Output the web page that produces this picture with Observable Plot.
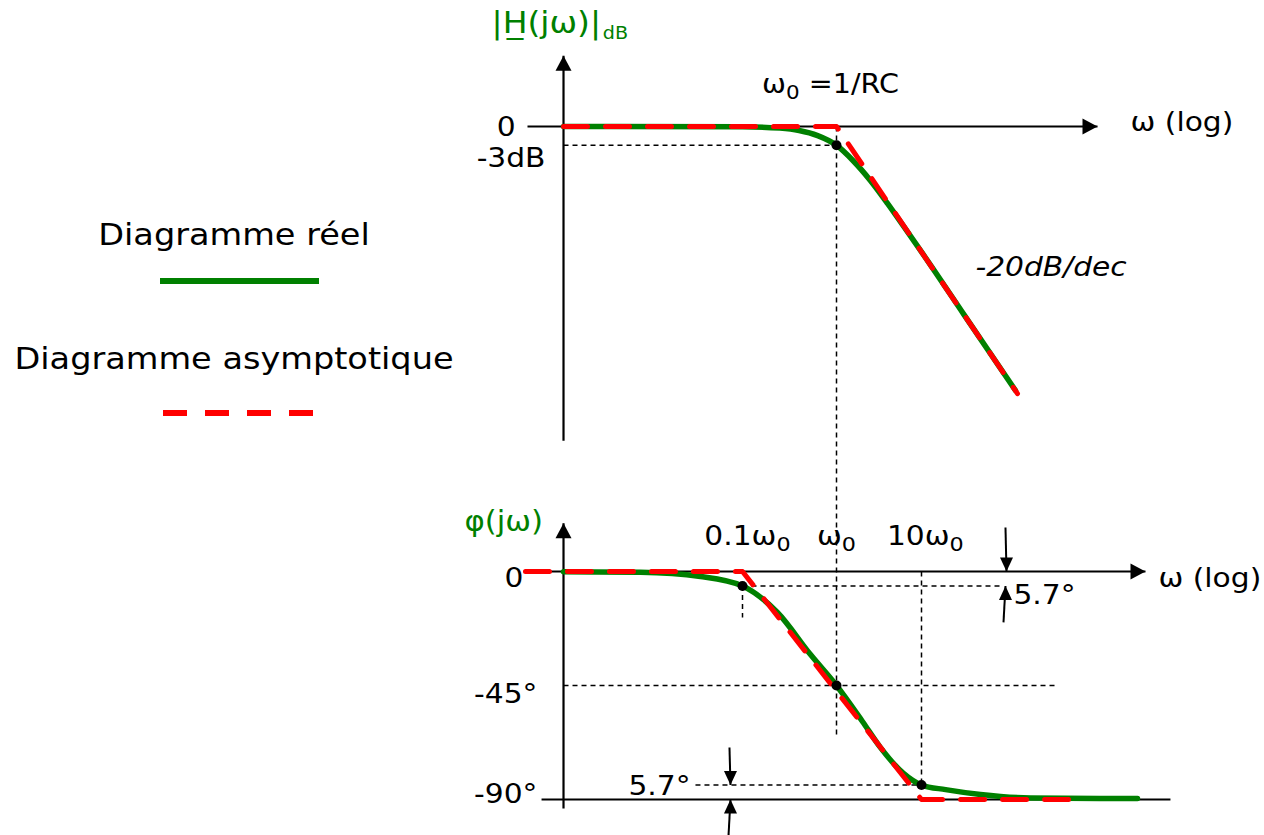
<!DOCTYPE html>
<html lang="fr">
<head>
<meta charset="utf-8">
<title>Diagramme de Bode – passe-bas du premier ordre</title>
<script src="https://cdn.jsdelivr.net/npm/d3@7"></script>
<script src="https://cdn.jsdelivr.net/npm/@observablehq/plot@0.6"></script>
<style>
  html, body { margin: 0; padding: 0; background: #fff; }
  #chart { position: relative; width: 1264px; height: 835px; overflow: hidden; font-family: "DejaVu Sans", sans-serif; }
  #chart > svg { position: absolute; left: 0; top: 0; }
</style>
</head>
<body>
<div id="chart"></div>
<script>
// Angular frequency is given as ω/ω0 (ω0 = 1/RC)

// ---------------- Gain |H(jω)| in dB ----------------
const magReal = [
  {w: 1.247e-3, db: 0}, {w: 0.1, db: -0.04}, {w: 0.25, db: -0.26}, {w: 0.4, db: -0.64},
  {w: 0.63, db: -1.46}, {w: 1, db: -3.0}, {w: 1.58, db: -5.5}, {w: 2.5, db: -8.6},
  {w: 4, db: -12.3}, {w: 6.3, db: -16.1}, {w: 10, db: -20.0}, {w: 31.6, db: -30.0},
  {w: 127.6, db: -42.1}
];
const magAsymptote = [{w: 1.247e-3, db: 0}, {w: 1, db: 0}, {w: 134.6, db: -42.6}];
const magAxes = [
  {w1: 5.16e-4, w2: 1177, db1: 0, db2: 0},
  {w1: 1.247e-3, w2: 1.247e-3, db1: -50.1, db2: 11.3}
];
const magArrowRight = [{w: 1177, db: 0}];
const magArrowUp = [{w: 1.247e-3, db: 11.3}];
const magGuides = [
  {w1: 1.247e-3, w2: 1, db1: -3, db2: -3},
  {w1: 1, w2: 1, db1: 0, db2: -97.4}
];
const magPoints = [{w: 1, db: -3}];
const magTitle = [{w: 2.14e-4, db: 16.4, label: "|H\u0332(jω)|_dB"}];
const magTickLabels = [{w: 3.85e-4, db: -0.16, label: "0"}, {w: 8.02e-4, db: -5.0, label: "-3dB"}];
const magCutoffLabel = [{w: 0.863, db: 6.7, label: "ω₀ =1/RC"}];
const magAxisLabel = [{w: 2877, db: 0.64, label: "ω (log)"}];
const magSlopeLabel = [{w: 43.2, db: -22.5, label: "-20dB/dec"}];

// ---------------- Phase φ(jω) in degrees ----------------
const phaseReal = [
  {w: 1.247e-3, deg: -0.1}, {w: 8.22e-3, deg: -0.32}, {w: 0.0357, deg: -1.97}, {w: 0.1, deg: -5.7},
  {w: 0.2355, deg: -16.2}, {w: 0.529, deg: -32.8}, {w: 1, deg: -45}, {w: 2.02, deg: -59.2},
  {w: 3.294, deg: -69.5}, {w: 6.14, deg: -79.7}, {w: 10, deg: -84.3}, {w: 19.2, deg: -86.1},
  {w: 49.4, deg: -88.0}, {w: 191, deg: -89.4}, {w: 3475, deg: -89.6}
];
const phaseAsymptote = [{w: 4.91e-4, deg: 0}, {w: 0.1, deg: 0}, {w: 10, deg: -90}, {w: 649, deg: -90}];
const phaseAxes = [
  {w1: 8.63e-4, w2: 4315, d1: 0, d2: 0},
  {w1: 7.28e-4, w2: 8490, d1: -90, d2: -90},
  {w1: 1.247e-3, w2: 1.247e-3, d1: -93.6, d2: 19.0}
];
const phaseArrowRight = [{w: 4315, deg: 0}];
const phaseArrowUp = [{w: 1.247e-3, deg: 19.0}];
const phaseGuides = [
  {w1: 0.1, w2: 92.2, d1: -5.7, d2: -5.7},
  {w1: 0.1, w2: 0.1, d1: -5.7, d2: -18.2},
  {w1: 10, w2: 10, d1: 0, d2: -84.3},
  {w1: 1.247e-3, w2: 377, d1: -45, d2: -45},
  {w1: 0.0316, w2: 10, d1: -84.3, d2: -84.3}
];
const phasePoints = [{w: 0.1, deg: -5.7}, {w: 1, deg: -45}, {w: 10, deg: -84.3}];
const phaseMarkersDown = [{w1: 97.3, d1: 17.4, w2: 100, d2: 0}, {w1: 0.0727, d1: -69.5, w2: 0.0745, d2: -84.3}];
const phaseMarkersUp = [{w1: 92.2, d1: -20.1, w2: 97.3, d2: -5.7}, {w1: 0.0710, d1: -104.2, w2: 0.0745, d2: -90}];
const phaseTitle = [{w: 1.10e-4, deg: 19.7, label: "φ(jω)"}];
const phaseTickLabels = [
  {w: 4.68e-4, deg: -2.8, label: "0"},
  {w: 6.59e-4, deg: -48.6, label: "-45°"},
  {w: 6.59e-4, deg: -88.0, label: "-90°"}
];
const phaseFreqLabels = [
  {w: 0.113, deg: 13.8, label: "0.1ω₀"},
  {w: 1, deg: 13.8, label: "ω₀"},
  {w: 11.1, deg: 13.8, label: "10ω₀"}
];
const phaseAxisLabel = [{w: 6138, deg: -2.8, label: "ω (log)"}];
const phaseDeltaLabels = [{w: 120.8, deg: -9.5, label: "5.7°"}, {w: 6.12e-3, deg: -84.9, label: "5.7°"}];

// ---------------- Legend ----------------
const legendLabels = ["Diagramme réel", "Diagramme asymptotique"];
const legendColors = ["green", "red"];

// ---------------- Drawing ----------------
const FONT = "DejaVu Sans";
const STRETCH = 1.1;
const GREEN = "#008000", RED = "#ff0000";
const dashGuide = "5,4";
const dashAsym = "24,18";

// filled arrowhead symbols, tip at the anchor point
const head = (ux, uy, len, half) => ({
  draw(context) {
    context.moveTo(0, 0);
    context.lineTo(-ux * len - uy * half, -uy * len + ux * half);
    context.lineTo(-ux * len + uy * half, -uy * len - ux * half);
    context.closePath();
  }
});
const headRight = head(1, 0, 15, 8);
const headUp = head(0, -1, 15, 8);
const smallUp = head(0, -1, 14, 6.5);
const smallDown = head(0, 1, 14, 6.5);

const xScale = {type: "log", domain: [0.1, 1, 10], range: [742, 836, 921], axis: null};
const common = {width: 1264, height: 835, margin: 0, style: {background: "transparent", overflow: "visible"}};
const txt = (data, x, y, o) => Plot.text(data, {x, y, text: "label", fontFamily: FONT, fill: "black", lineAnchor: "middle", ...o});

const magPlot = Plot.plot({
  ...common,
  x: xScale,
  y: {domain: [0, -40], range: [126, 376.8], axis: null},
  marks: [
    Plot.link(magGuides, {x1: "w1", x2: "w2", y1: "db1", y2: "db2", stroke: "black", strokeWidth: 1.5, strokeDasharray: dashGuide}),
    Plot.link(magAxes, {x1: "w1", x2: "w2", y1: "db1", y2: "db2", stroke: "black", strokeWidth: 2.2}),
    Plot.dot(magArrowRight, {x: "w", y: "db", symbol: headRight, fill: "black", stroke: "none"}),
    Plot.dot(magArrowUp, {x: "w", y: "db", symbol: headUp, fill: "black", stroke: "none"}),
    Plot.line(magReal, {x: "w", y: "db", stroke: GREEN, strokeWidth: 5.5, curve: "monotone-x"}),
    Plot.line(magAsymptote, {x: "w", y: "db", stroke: RED, strokeWidth: 5, strokeDasharray: dashAsym}),
    Plot.dot(magPoints, {x: "w", y: "db", r: 5, fill: "black", stroke: "none"}),
    txt(magTitle, "w", "db", {textAnchor: "start", fontSize: 30, fill: GREEN}),
    txt(magTickLabels, "w", "db", {textAnchor: "end", fontSize: 27}),
    txt(magCutoffLabel, "w", "db", {textAnchor: "middle", fontSize: 26}),
    txt(magAxisLabel, "w", "db", {textAnchor: "start", fontSize: 27}),
    txt(magSlopeLabel, "w", "db", {textAnchor: "start", fontSize: 27, fontStyle: "italic"})
  ]
});

const phasePlot = Plot.plot({
  ...common,
  x: xScale,
  y: {domain: [0, -90], range: [571, 799], axis: null},
  marks: [
    Plot.link(phaseGuides, {x1: "w1", x2: "w2", y1: "d1", y2: "d2", stroke: "black", strokeWidth: 1.5, strokeDasharray: dashGuide}),
    Plot.link(phaseAxes, {x1: "w1", x2: "w2", y1: "d1", y2: "d2", stroke: "black", strokeWidth: 2.2}),
    Plot.dot(phaseArrowRight, {x: "w", y: "deg", symbol: headRight, fill: "black", stroke: "none"}),
    Plot.dot(phaseArrowUp, {x: "w", y: "deg", symbol: headUp, fill: "black", stroke: "none"}),
    Plot.link(phaseMarkersDown, {x1: "w1", x2: "w2", y1: "d1", y2: "d2", stroke: "black", strokeWidth: 2}),
    Plot.link(phaseMarkersUp, {x1: "w1", x2: "w2", y1: "d1", y2: "d2", stroke: "black", strokeWidth: 2}),
    Plot.dot(phaseMarkersDown, {x: "w2", y: "d2", symbol: smallDown, fill: "black", stroke: "none"}),
    Plot.dot(phaseMarkersUp, {x: "w2", y: "d2", symbol: smallUp, fill: "black", stroke: "none"}),
    Plot.line(phaseReal, {x: "w", y: "deg", stroke: GREEN, strokeWidth: 5.5, curve: "monotone-x"}),
    Plot.line(phaseAsymptote, {x: "w", y: "deg", stroke: RED, strokeWidth: 5, strokeDasharray: dashAsym}),
    Plot.dot(phasePoints, {x: "w", y: "deg", r: 5, fill: "black", stroke: "none"}),
    txt(phaseTitle, "w", "deg", {textAnchor: "start", fontSize: 28, fill: GREEN}),
    txt(phaseTickLabels, "w", "deg", {textAnchor: "end", fontSize: 27}),
    txt(phaseFreqLabels, "w", "deg", {textAnchor: "middle", fontSize: 27}),
    txt(phaseAxisLabel, "w", "deg", {textAnchor: "start", fontSize: 27}),
    txt(phaseDeltaLabels, "w", "deg", {textAnchor: "start", fontSize: 27})
  ]
});

// Legend (to the left of the charts)
const legend = d3.create("svg").attr("width", 470).attr("height", 450)
  .style("font-family", FONT);
const legendTextY = [234, 358];
const legendLineY = [281, 413];
const legendLineX = [[160, 319], [163, 313]];
legendLabels.forEach((label, i) => {
  legend.append("text").attr("transform", `translate(234,${legendTextY[i]})`)
    .attr("text-anchor", "middle").attr("dy", "0.35em").attr("font-size", 30.5).attr("fill", "black").text(label);
  legend.append("line").attr("x1", legendLineX[i][0]).attr("x2", legendLineX[i][1])
    .attr("y1", legendLineY[i]).attr("y2", legendLineY[i])
    .attr("stroke", legendColors[i]).attr("stroke-width", 6)
    .attr("stroke-dasharray", i === 1 ? dashAsym : null);
});

const root = document.getElementById("chart");
root.append(legend.node(), magPlot, phasePlot);

// subscripts: "₀" -> lowered 0, "_xx" -> lowered xx
const SVGNS = "http://www.w3.org/2000/svg";
function applySubscripts(el) {
  const s = el.textContent;
  const re = /₀|_([A-Za-z0-9]+)/g;
  const parts = [];
  let last = 0, m;
  while ((m = re.exec(s))) {
    parts.push([s.slice(last, m.index), false]);
    parts.push([m[1] || "0", true]);
    last = re.lastIndex;
  }
  if (!parts.length) return;
  parts.push([s.slice(last), false]);
  const fs = parseFloat(getComputedStyle(el).fontSize);
  el.textContent = "";
  let offset = 0;
  for (const [str, sub] of parts) {
    if (!str) continue;
    const small = sub && /[A-Za-z]/.test(str);
    const size = sub ? (small ? 0.58 : 0.75) : 1;
    const target = sub ? (small ? 0.2 : 0.22) * fs : 0;
    const ts = document.createElementNS(SVGNS, "tspan");
    ts.setAttribute("dy", target - offset);
    if (small) ts.setAttribute("dx", 0.05 * fs);
    offset = target;
    if (sub) ts.setAttribute("font-size", size * fs);
    ts.textContent = str;
    el.appendChild(ts);
  }
}

for (const svg of [magPlot, phasePlot, legend.node()]) {
  d3.select(svg).selectAll("text").each(function () {
    applySubscripts(this);
    // horizontal stretch of the lettering, anchored at each label's position
    const t = this.getAttribute("transform");
    if (t) this.setAttribute("transform", `${t} scale(${STRETCH},1)`);
    else {
      const x = +this.getAttribute("x") || 0;
      this.setAttribute("transform", `translate(${x},0) scale(${STRETCH},1) translate(${-x},0)`);
    }
  });
}
</script>
</body>
</html>
